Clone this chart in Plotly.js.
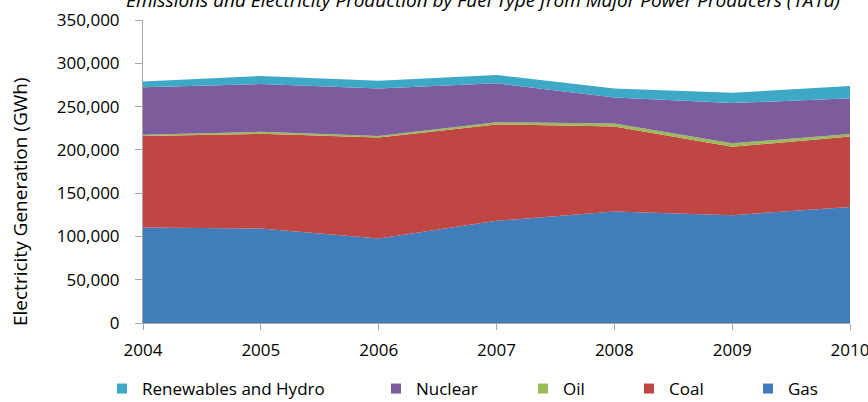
<!DOCTYPE html>
<html>
<head>
<meta charset="utf-8">
<script src="https://cdn.plot.ly/plotly-3.0.1.min.js"></script>
<style>
  html, body { margin: 0; padding: 0; background: #ffffff; }
  #chart { width: 868px; height: 402px; }
</style>
</head>
<body>
<div id="chart"></div>
<script>
// ---- Data (GWh) ----
const years      = [2004, 2005, 2006, 2007, 2008, 2009, 2010];
const gas        = [110300, 109100, 97600, 118000, 128800, 124500, 134100];
const coal       = [105600, 109400, 116800, 111400, 98200, 79000, 81400];
const oil        = [1500, 2400, 1500, 2500, 3500, 4100, 2700];
const nuclear    = [54800, 55100, 55100, 44900, 30100, 46400, 41300];
const renewables = [6900, 9300, 8800, 9600, 10400, 12000, 14200];

const seriesNames = ["Gas", "Coal", "Oil", "Nuclear", "Renewables and Hydro"];
const yTickVals   = [0, 50000, 100000, 150000, 200000, 250000, 300000, 350000];
const titleText   = "Emissions and Electricity Production by Fuel Type from Major Power Producers (1A1a)";
const yTitleText  = "Electricity Generation (GWh)";

// ---- Styles ----
const colors = {
  "Gas": "#417CBB",
  "Coal": "#BF4643",
  "Oil": "#9BBB59",
  "Nuclear": "#7D5C9E",
  "Renewables and Hydro": "#3DA9C6"
};
const FONT = "Open Sans, Liberation Sans, Arial, sans-serif";

const seriesData = {
  "Gas": gas, "Coal": coal, "Oil": oil, "Nuclear": nuclear, "Renewables and Hydro": renewables
};

const traces = [];
// stacked areas (bottom to top)
seriesNames.forEach(name => {
  traces.push({
    type: "scatter",
    mode: "lines",
    x: years,
    y: seriesData[name],
    stackgroup: "one",
    name: name,
    line: { width: 0, color: colors[name] },
    fillcolor: colors[name],
    showlegend: false,
    hoverinfo: "x+y+name"
  });
});

// legend entries: square markers, each in its own legend so positions match
const legendOrder = ["Renewables and Hydro", "Nuclear", "Oil", "Coal", "Gas"];
const legendCenters = [122, 396, 543, 649, 768]; // symbol centre positions (px)
const legendIds = ["legend", "legend2", "legend3", "legend4", "legend5"];
legendOrder.forEach((name, i) => {
  traces.push({
    type: "scatter",
    mode: "markers",
    x: [null],
    y: [null],
    name: name,
    legend: legendIds[i],
    marker: { symbol: "square", size: 10, color: colors[name] },
    showlegend: true,
    hoverinfo: "skip"
  });
});

const W = 868, H = 402;
const M = { l: 143, r: 18, t: 20, b: 79 };
const plotH = H - M.t - M.b, plotW = W - M.l - M.r;

const layout = {
  width: W,
  height: H,
  paper_bgcolor: "#ffffff",
  plot_bgcolor: "#ffffff",
  margin: { l: M.l, r: M.r, t: M.t, b: M.b, pad: 0, autoexpand: false },
  font: { family: FONT, size: 17, color: "#000000" },
  title: {
    text: titleText,
    font: { family: FONT, size: 19, color: "#000000", style: "italic" },
    x: 483 / W,
    xanchor: "center",
    xref: "container",
    y: 1,
    yref: "container",
    yanchor: "middle"
  },
  xaxis: {
    type: "linear",
    range: [2004, 2010],
    tickmode: "array",
    tickvals: years,
    ticktext: years.map(String),
    showgrid: false,
    zeroline: false,
    showline: true,
    linecolor: "#A6A6A6",
    linewidth: 1,
    ticks: "outside",
    ticklen: 6,
    tickcolor: "#A6A6A6",
    tickfont: { family: FONT, size: 17, color: "#000000" },
    ticklabelstandoff: 6,
    ticklabeloverflow: "allow",
    fixedrange: true
  },
  yaxis: {
    range: [0, 350000],
    tickmode: "array",
    tickvals: yTickVals,
    tickformat: ",d",
    showgrid: false,
    zeroline: false,
    showline: true,
    linecolor: "#A6A6A6",
    linewidth: 1,
    ticks: "outside",
    ticklen: 7,
    tickcolor: "#A6A6A6",
    tickfont: { family: FONT, size: 17, color: "#000000" },
    ticklabelstandoff: 12,
    fixedrange: true
  },
  annotations: [{
    text: yTitleText,
    textangle: -90,
    xref: "paper",
    yref: "paper",
    x: (20 - M.l) / plotW,
    y: (H - M.b - 201) / plotH,
    xanchor: "center",
    yanchor: "middle",
    showarrow: false,
    font: { family: FONT, size: 19, color: "#000000" }
  }],
  showlegend: true
};

legendIds.forEach((id, i) => {
  layout[id] = {
    orientation: "h",
    x: (legendCenters[i] - 20) / W,
    xref: "container",
    xanchor: "left",
    y: 1 - 389 / H,
    yref: "container",
    yanchor: "middle",
    bgcolor: "rgba(0,0,0,0)",
    borderwidth: 0,
    font: { family: FONT, size: 17, color: "#000000" },
    itemwidth: 30
  };
});

Plotly.newPlot("chart", traces, layout, { displayModeBar: false, staticPlot: true });
</script>
</body>
</html>
